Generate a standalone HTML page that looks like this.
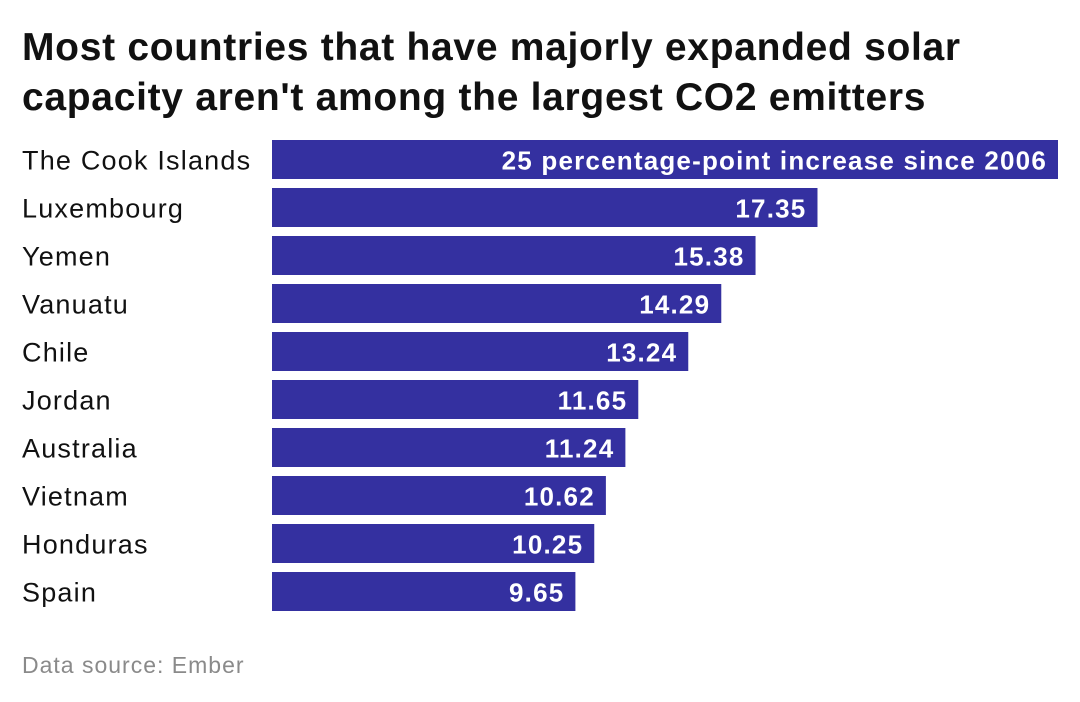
<!DOCTYPE html>
<html><head><meta charset="utf-8"><style>
body{margin:0;background:#fff;width:1080px;height:702px;overflow:hidden;font-family:"Liberation Sans",sans-serif;}
#title{position:absolute;left:22px;top:23px;font-size:39px;font-weight:bold;line-height:50px;color:#111;width:980px;letter-spacing:0.7px}
#src{position:absolute;left:22px;top:652px;font-size:23px;color:#8a8a8a;letter-spacing:1px}
svg{position:absolute;left:0;top:0}
</style></head><body>
<div id="title">Most countries that have majorly expanded solar capacity aren't among the largest CO2 emitters</div>
<svg id="chart" width="1080" height="702"></svg>
<div id="src">Data source: Ember</div>
<script>
const categories=["The Cook Islands","Luxembourg","Yemen","Vanuatu","Chile","Jordan","Australia","Vietnam","Honduras","Spain"];
const values=[25,17.35,15.38,14.29,13.24,11.65,11.24,10.62,10.25,9.65];
const valueLabels=["25 percentage-point increase since 2006","17.35","15.38","14.29","13.24","11.65","11.24","10.62","10.25","9.65"];
const svg=document.getElementById('chart');
const NS='http://www.w3.org/2000/svg';
const x0=272,xMaxPx=1058,maxV=25;
const xs=v=>x0+(v/maxV)*(xMaxPx-x0);
const yTop=140,pitch=48,bh=39;
const ys=i=>yTop+i*pitch;
categories.forEach((c,i)=>{
  const y=ys(i);
  const t=document.createElementNS(NS,'text');
  
  
  t.setAttribute('x',22);t.setAttribute('y',y+bh/2+10);
  t.setAttribute('font-size','27');t.setAttribute('letter-spacing','1.2');t.setAttribute('fill','#111');
  t.textContent=c;svg.appendChild(t);
  const r=document.createElementNS(NS,'rect');
  
  
  r.setAttribute('x',x0);r.setAttribute('y',y);
  r.setAttribute('width',xs(values[i])-x0);r.setAttribute('height',bh);
  r.setAttribute('fill','#3430a0');svg.appendChild(r);
  const v=document.createElementNS(NS,'text');
  
  
  v.setAttribute('x',xs(values[i])-11);v.setAttribute('y',y+bh/2+10);
  v.setAttribute('text-anchor','end');
  v.setAttribute('font-size','26');v.setAttribute('font-weight','bold');v.setAttribute('letter-spacing','1.2');v.setAttribute('fill','#fff');
  v.textContent=valueLabels[i];svg.appendChild(v);
});
</script>
</body></html>
